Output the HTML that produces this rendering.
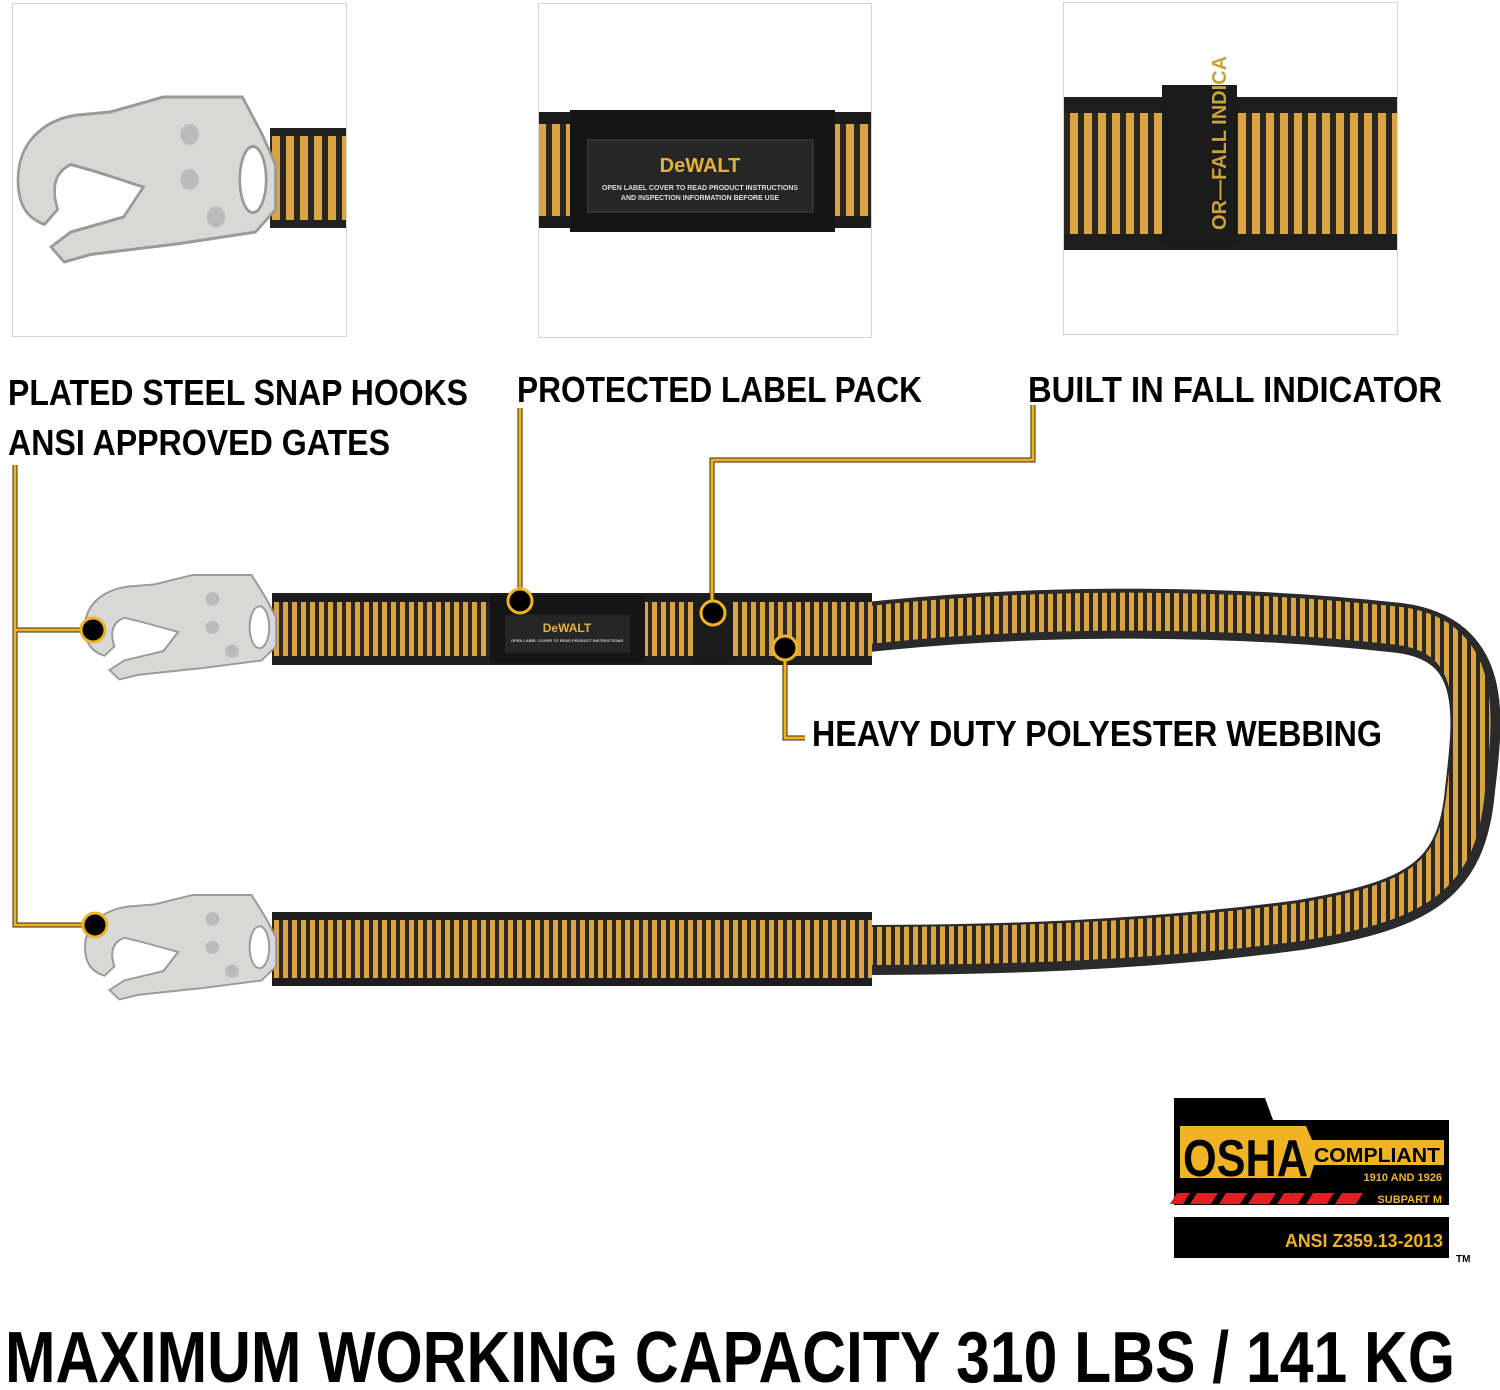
<!DOCTYPE html>
<html><head><meta charset="utf-8"><style>
html,body{margin:0;padding:0;background:#fff}
svg{display:block}
text{font-family:"Liberation Sans Narrow","Liberation Sans",sans-serif;font-weight:bold}
</style></head><body>
<svg width="1500" height="1390" viewBox="0 0 1500 1390" xmlns="http://www.w3.org/2000/svg">
<defs>
<pattern id="stripe" width="9" height="10" patternUnits="userSpaceOnUse">
<rect width="9" height="10" fill="#d9a441"/><rect width="4" height="10" fill="#2b2620"/>
</pattern>
<pattern id="stripe2" width="14" height="10" patternUnits="userSpaceOnUse">
<rect width="14" height="10" fill="#d9a441"/><rect width="6" height="10" fill="#2b2620"/>
</pattern>
<g id="hook">
<path d="M0,55 C0,30 20,15 45,12 L70,10 L110,0 L170,0 L185,25 L195,45 L195,75 L180,90 L120,98 L55,105 L35,110 L25,100 L40,90 L80,80 L95,60 L60,50 L40,45 C28,50 25,60 30,75 L20,85 C5,80 0,70 0,55 Z" fill="#d8d8d6" stroke="#9a9a98" stroke-width="2"/>
<circle cx="130" cy="25" r="7" fill="#bbb"/><circle cx="130" cy="55" r="7" fill="#bbb"/><circle cx="150" cy="80" r="7" fill="#bbb"/>
<ellipse cx="178" cy="55" rx="10" ry="22" fill="#fff" stroke="#999" stroke-width="2"/>
</g>
</defs>

<!-- thumbnails -->
<rect x="12.5" y="3.5" width="334" height="333" fill="#fff" stroke="#d4d4d4"/>
<rect x="538.5" y="3.5" width="333" height="334" fill="#fff" stroke="#d4d4d4"/>
<rect x="1063.5" y="2.5" width="334" height="332" fill="#fff" stroke="#d4d4d4"/>
<!-- thumb1 -->
<rect x="270" y="128" width="76" height="100" fill="url(#stripe2)"/>
<rect x="270" y="128" width="76" height="8" fill="#222"/><rect x="270" y="220" width="76" height="8" fill="#222"/>
<use href="#hook" transform="translate(18,97) scale(1.32,1.5)"/>
<!-- thumb2 -->
<rect x="539" y="112" width="332" height="116" fill="url(#stripe2)"/>
<rect x="539" y="112" width="332" height="12" fill="#1b1b1b"/><rect x="539" y="216" width="332" height="12" fill="#1b1b1b"/>
<rect x="570" y="110" width="265" height="122" fill="#151515"/>
<rect x="588" y="140" width="225" height="72" fill="#262626" stroke="#444"/>
<text x="700" y="172" text-anchor="middle" font-size="20" fill="#e3b23c">DeWALT</text>
<text x="700" y="190" text-anchor="middle" font-size="7" fill="#ddd">OPEN LABEL COVER TO READ PRODUCT INSTRUCTIONS</text>
<text x="700" y="200" text-anchor="middle" font-size="7" fill="#ddd">AND INSPECTION INFORMATION BEFORE USE</text>
<!-- thumb3 -->
<rect x="1064" y="97" width="333" height="153" fill="url(#stripe2)"/>
<rect x="1064" y="97" width="333" height="16" fill="#1e1e1e"/><rect x="1064" y="234" width="333" height="16" fill="#1e1e1e"/>
<rect x="1162" y="85" width="75" height="160" fill="#1b1b1b"/>
<text transform="translate(1226,230) rotate(-90)" font-size="20" fill="#c9a23a">OR—FALL INDICA</text>

<!-- labels -->
<text x="8" y="405" font-size="36" textLength="460" lengthAdjust="spacingAndGlyphs">PLATED STEEL SNAP HOOKS</text>
<text x="8" y="455" font-size="36" textLength="382" lengthAdjust="spacingAndGlyphs">ANSI APPROVED GATES</text>
<text x="517" y="402" font-size="36" textLength="405" lengthAdjust="spacingAndGlyphs">PROTECTED LABEL PACK</text>
<text x="1028" y="402" font-size="36" textLength="414" lengthAdjust="spacingAndGlyphs">BUILT IN FALL INDICATOR</text>
<text x="812" y="746" font-size="36" textLength="570" lengthAdjust="spacingAndGlyphs">HEAVY DUTY POLYESTER WEBBING</text>

<!-- lanyard bungee -->
<path d="M860,628 C1000,612 1200,606 1400,628 C1490,640 1478,720 1470,790 C1462,880 1420,905 1300,925 C1150,945 1000,950 860,950" fill="none" stroke="#2a2a2a" stroke-width="50"/>
<path d="M860,626 C1000,610 1200,604 1400,626 C1486,638 1474,720 1466,790 C1458,878 1418,902 1300,922 C1150,942 1000,946 860,946" fill="none" stroke="url(#stripe)" stroke-width="38"/>
<!-- top webbing -->
<rect x="272" y="595" width="600" height="68" fill="url(#stripe)"/>
<rect x="272" y="593" width="600" height="9" fill="#1e1e1e"/><rect x="272" y="656" width="600" height="9" fill="#1e1e1e"/>
<rect x="490" y="595" width="155" height="68" fill="#151515"/>
<rect x="505" y="615" width="125" height="38" fill="#262626"/>
<text x="567" y="632" text-anchor="middle" font-size="12" fill="#e3b23c">DeWALT</text>
<text x="567" y="642" text-anchor="middle" font-size="4" fill="#ccc">OPEN LABEL COVER TO READ PRODUCT INSTRUCTIONS</text>
<rect x="693" y="597" width="40" height="64" fill="#1b1b1b"/>
<!-- bottom webbing -->
<rect x="272" y="914" width="600" height="70" fill="url(#stripe)"/>
<rect x="272" y="912" width="600" height="8" fill="#1e1e1e"/><rect x="272" y="978" width="600" height="8" fill="#1e1e1e"/>
<!-- hooks -->
<use href="#hook" transform="translate(85,575) scale(0.98,0.95)"/>
<use href="#hook" transform="translate(85,895) scale(0.98,0.95)"/>

<!-- callout lines -->
<g fill="none" stroke="#3a2e10" stroke-width="5">
<path d="M15,465 V925 H93 M15,630 H93 M520,408 V600 M1033,405 V460 H712 V612 M785,648 V738 H805"/>
</g>
<g fill="none" stroke="#f0b323" stroke-width="3">
<path d="M15,465 V925 H93 M15,630 H93 M520,408 V600 M1033,405 V460 H712 V612 M785,648 V738 H805"/>
</g>
<g fill="#000" stroke="#f0b323" stroke-width="3">
<circle cx="93" cy="630" r="12"/><circle cx="95" cy="925" r="12"/>
<circle cx="520" cy="601" r="12"/><circle cx="713" cy="613" r="12"/><circle cx="785" cy="648" r="12"/>
</g>

<!-- OSHA badge -->
<path d="M1174,1098 H1265 L1273,1120 H1449 V1258 H1174 Z" fill="#000"/>
<rect x="1174" y="1205" width="275" height="12" fill="#fff"/>
<path d="M1180,1126 H1306 L1312,1140 H1444 V1165 H1314 L1310,1178 H1180 Z" fill="#f0b323"/>
<text x="1183" y="1176" font-size="52" fill="#000" textLength="125" lengthAdjust="spacingAndGlyphs">OSHA</text>
<text x="1314" y="1162" font-size="20" fill="#000" textLength="126" lengthAdjust="spacingAndGlyphs">COMPLIANT</text>
<text x="1442" y="1181" text-anchor="end" font-size="11" fill="#f0b323">1910 AND 1926</text>
<text x="1442" y="1203" text-anchor="end" font-size="11" fill="#f0b323">SUBPART M</text>
<g fill="#e02020">
<path d="M1177,1193 H1190 L1183,1204 H1170 Z M1197,1193 H1218 L1211,1204 H1190 Z M1226,1193 H1247 L1240,1204 H1219 Z M1255,1193 H1276 L1269,1204 H1248 Z M1284,1193 H1305 L1298,1204 H1277 Z M1313,1193 H1334 L1327,1204 H1306 Z M1342,1193 H1363 L1356,1204 H1335 Z"/>
</g>
<text x="1443" y="1247" text-anchor="end" font-size="18" fill="#f0b323" textLength="158" lengthAdjust="spacingAndGlyphs">ANSI Z359.13-2013</text>
<text x="1456" y="1262" font-size="10" fill="#000" font-weight="normal">TM</text>

<!-- bottom title -->
<text x="5" y="1382" font-size="72" fill="#000" textLength="1450" lengthAdjust="spacingAndGlyphs">MAXIMUM WORKING CAPACITY 310 LBS / 141 KG</text>
</svg>
</body></html>
